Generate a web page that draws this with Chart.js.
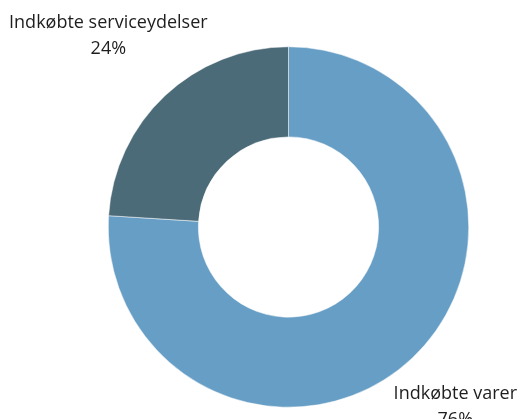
<!DOCTYPE html>
<html>
<head>
<meta charset="utf-8">
<style>
  html, body { margin: 0; padding: 0; background: #fff; }
  #wrap { width: 517px; height: 419px; }
</style>
<script src="https://cdn.jsdelivr.net/npm/chart.js@4/dist/chart.umd.min.js"></script>
</head>
<body>
<div id="wrap"><canvas id="donut" width="517" height="419"></canvas></div>
<script>
const labels = ['Indkøbte varer', 'Indkøbte serviceydelser'];
const shares = [76, 24];
const colors = ['#679ec5', '#4c6b79'];

// outside labels: name on one line, percentage below
const outsideLabels = {
  id: 'outsideLabels',
  afterDatasetsDraw(chart) {
    const { ctx, width, height } = chart;
    const meta = chart.getDatasetMeta(0);
    ctx.save();
    ctx.font = '18px "Open Sans"';
    ctx.fillStyle = '#1e1e1e';
    ctx.textAlign = 'center';
    ctx.textBaseline = 'middle';
    meta.data.forEach((arc, i) => {
      const p = arc.getProps(['x', 'y', 'startAngle', 'endAngle', 'outerRadius'], true);
      const mid = (p.startAngle + p.endAngle) / 2;
      const r = p.outerRadius * 1.46;
      let x = p.x + Math.cos(mid) * r;
      let y = p.y + Math.sin(mid) * r;
      const w = Math.max(ctx.measureText(labels[i]).width, ctx.measureText(shares[i] + '%').width);
      x = Math.min(Math.max(x, w / 2 + 2), width - w / 2);
      y = Math.min(Math.max(y, 36), height - 12);
      ctx.fillText(labels[i], x, y - 13);
      ctx.fillText(shares[i] + '%', x, y + 13);
    });
    ctx.restore();
  }
};

new Chart(document.getElementById('donut'), {
  type: 'doughnut',
  data: {
    labels,
    datasets: [{
      data: shares,
      backgroundColor: colors,
      borderColor: '#ffffff',
      borderWidth: 0.5
    }]
  },
  options: {
    responsive: false,
    animation: false,
    cutout: '50%',
    layout: { padding: { top: 46, bottom: 11, left: 108, right: 48 } },
    plugins: {
      legend: { display: false },
      tooltip: { enabled: false }
    }
  },
  plugins: [outsideLabels]
});
</script>
</body>
</html>
